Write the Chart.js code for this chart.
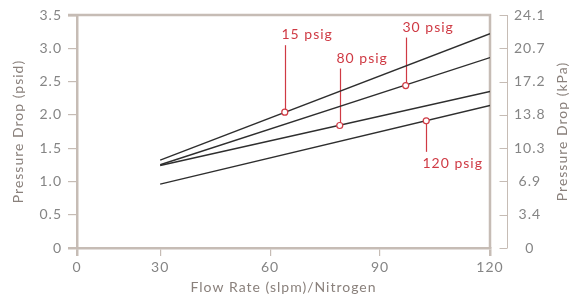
<!DOCTYPE html>
<html>
<head>
<meta charset="utf-8">
<script src="https://cdn.jsdelivr.net/npm/chart.js@4.4.1/dist/chart.umd.min.js"></script>
<style>
  html, body { margin: 0; padding: 0; background: #fff; }
  #chart { display: block; }
</style>
</head>
<body>
<canvas id="chart" width="573" height="296"></canvas>
<script>
// Flow rate (slpm) where every curve starts and ends
const flowRate = [30, 120];

// Pressure drop (psid) per inlet pressure
const drop15psig = [1.32, 3.22];
const drop30psig = [1.25, 2.86];
const drop80psig = [1.24, 2.35];
const drop120psig = [0.96, 2.14];

// Callouts: label, flow rate and pressure drop of the little circle
const calloutLabels = ['15 psig', '30 psig', '80 psig', '120 psig'];
const calloutFlow = [64, 97, 79, 102.6];
const calloutDrop = [2.04, 2.44, 1.84, 1.91];

// Axis ticks (the original x axis is squeezed between 0 and 30)
const xTickValues = [7.3, 30, 60, 90, 120];
const xTickLabels = ['0', '30', '60', '90', '120'];
const psiTickLabels = ['0', '0.5', '1.0', '1.5', '2.0', '2.5', '3.0', '3.5'];
const kpaTickLabels = ['0', '3.4', '6.9', '10.3', '13.8', '17.2', '20.7', '24.1'];

const FRAME = '#c6bcb5';
const TICK_TEXT = '#858585';
const TITLE_TEXT = '#8a817c';
const RED = '#cf3a44';
const LINE = '#2e2e2e';
const FONT = 'Lato, "Open Sans", sans-serif';
const SPACING = '1px';

Chart.defaults.font.family = FONT;

const toPoints = (ys) => flowRate.map((x, i) => ({ x, y: ys[i] }));

const curve = (data) => ({
    data: toPoints(data),
    borderColor: LINE,
    borderWidth: 1.4,
    pointRadius: 0,
    tension: 0,
    order: 2
});

// the original type is wider than Lato, so open it up a little
const spacingPlugin = {
    id: 'spacing',
    beforeLayout(chart) { chart.ctx.letterSpacing = SPACING; },
    beforeDraw(chart) { chart.ctx.letterSpacing = SPACING; }
};

// Frame, secondary kPa bracket and callout leaders
const decorPlugin = {
    id: 'decor',
    beforeDatasetsDraw(chart, args, opts) {
        const { ctx, chartArea: { left, right, top, bottom }, scales } = chart;
        ctx.save();

        // top and right side of the frame
        ctx.strokeStyle = FRAME;
        ctx.lineWidth = 2.5;
        ctx.beginPath();
        ctx.moveTo(left - 9, top);
        ctx.lineTo(right, top);
        ctx.moveTo(right, top - 1.2);
        ctx.lineTo(right, bottom);
        ctx.stroke();

        // kPa bracket
        const bx = Math.round(right + opts.bracketGap) + 0.5;
        ctx.lineWidth = 1;
        ctx.beginPath();
        ctx.moveTo(bx, top);
        ctx.lineTo(bx, bottom);
        scales.y2.ticks.forEach((t, i) => {
            const py = Math.round(scales.y2.getPixelForTick(i)) + 0.5;
            ctx.moveTo(bx - opts.bracketTick, py);
            ctx.lineTo(bx, py);
        });
        ctx.stroke();

        // right axis title, reading bottom to top
        ctx.fillStyle = TITLE_TEXT;
        ctx.font = '14px ' + FONT;
        ctx.textAlign = 'center';
        ctx.textBaseline = 'middle';
        ctx.save();
        ctx.translate(opts.rightTitleX, (top + bottom) / 2);
        ctx.rotate(-Math.PI / 2);
        ctx.fillText('Pressure Drop (kPa)', 0, 0);
        ctx.restore();

        // callout leaders and labels
        ctx.strokeStyle = RED;
        ctx.fillStyle = RED;
        ctx.lineWidth = 1.2;
        ctx.font = '14px ' + FONT;
        ctx.textAlign = 'left';
        ctx.textBaseline = 'alphabetic';
        calloutLabels.forEach((label, i) => {
            const px = Math.round(scales.x.getPixelForValue(calloutFlow[i])) + 0.5;
            const py = scales.y.getPixelForValue(calloutDrop[i]);
            const len = opts.leaders[i];
            const end = py - len;
            ctx.beginPath();
            ctx.moveTo(px, py);
            ctx.lineTo(px, end);
            ctx.stroke();
            const ty = len > 0 ? end - 6 : end + 16;
            ctx.fillText(label, px - 4, ty);
        });
        ctx.restore();
    }
};

const tickLine = (ctx) => {
    const last = ctx.chart.scales[ctx.scale.id].ticks.length - 1;
    return ctx.index === 0 || ctx.index === last ? 2.5 : 1.2;
};

new Chart(document.getElementById('chart'), {
    type: 'line',
    data: {
        datasets: [
            curve(drop15psig),
            curve(drop30psig),
            curve(drop80psig),
            curve(drop120psig),
            {
                type: 'scatter',
                data: calloutFlow.map((x, i) => ({ x, y: calloutDrop[i] })),
                showLine: false,
                pointRadius: 3,
                pointBorderWidth: 1.2,
                pointBorderColor: RED,
                pointBackgroundColor: '#fff',
                order: 1
            }
        ]
    },
    options: {
        responsive: false,
        animation: false,
        events: [],
        layout: { padding: { top: 15 } },
        plugins: {
            legend: { display: false },
            tooltip: { enabled: false },
            decor: {
                bracketGap: 17,
                bracketTick: 8,
                rightTitleX: 562,
                leaders: [67, 48, 57, -31]
            }
        },
        scales: {
            x: {
                type: 'linear',
                position: 'bottom',
                min: xTickValues[0],
                max: 120,
                afterBuildTicks: (scale) => { scale.ticks = xTickValues.map(value => ({ value })); },
                afterFit: (scale) => { scale.height = 48; },
                border: { color: FRAME, width: 2.5 },
                grid: { drawOnChartArea: false, drawTicks: true, tickLength: 8, color: FRAME, lineWidth: tickLine },
                ticks: {
                    color: TICK_TEXT,
                    font: { size: 14 },
                    padding: 3,
                    maxRotation: 0,
                    callback: (v, i) => xTickLabels[i]
                },
                title: {
                    display: true,
                    text: 'Flow Rate (slpm)/Nitrogen',
                    color: TITLE_TEXT,
                    font: { size: 14 },
                    padding: { top: 0, bottom: 0 }
                }
            },
            y: {
                type: 'linear',
                position: 'left',
                min: 0,
                max: 3.5,
                afterFit: (scale) => { scale.width = 77; scale.paddingTop = 0; scale.paddingBottom = 0; },
                border: { color: FRAME, width: 2.5 },
                grid: { drawOnChartArea: false, drawTicks: true, tickLength: 9, color: FRAME, lineWidth: tickLine },
                ticks: {
                    stepSize: 0.5,
                    color: TICK_TEXT,
                    font: { size: 14 },
                    padding: 6,
                    callback: (v, i) => psiTickLabels[i]
                },
                title: {
                    display: true,
                    text: 'Pressure Drop (psid)',
                    color: TITLE_TEXT,
                    font: { size: 14 },
                    padding: { top: 10, bottom: 0 }
                }
            },
            y2: {
                type: 'linear',
                position: 'right',
                min: 0,
                max: 3.5,
                afterFit: (scale) => { scale.width = 83; scale.paddingTop = 0; scale.paddingBottom = 0; },
                border: { display: false },
                grid: { display: false, drawOnChartArea: false },
                ticks: {
                    stepSize: 0.5,
                    color: TICK_TEXT,
                    font: { size: 14 },
                    padding: 16,
                    crossAlign: 'center',
                    callback: (v, i) => kpaTickLabels[i]
                }
            }
        }
    },
    plugins: [spacingPlugin, decorPlugin]
});
</script>
</body>
</html>
